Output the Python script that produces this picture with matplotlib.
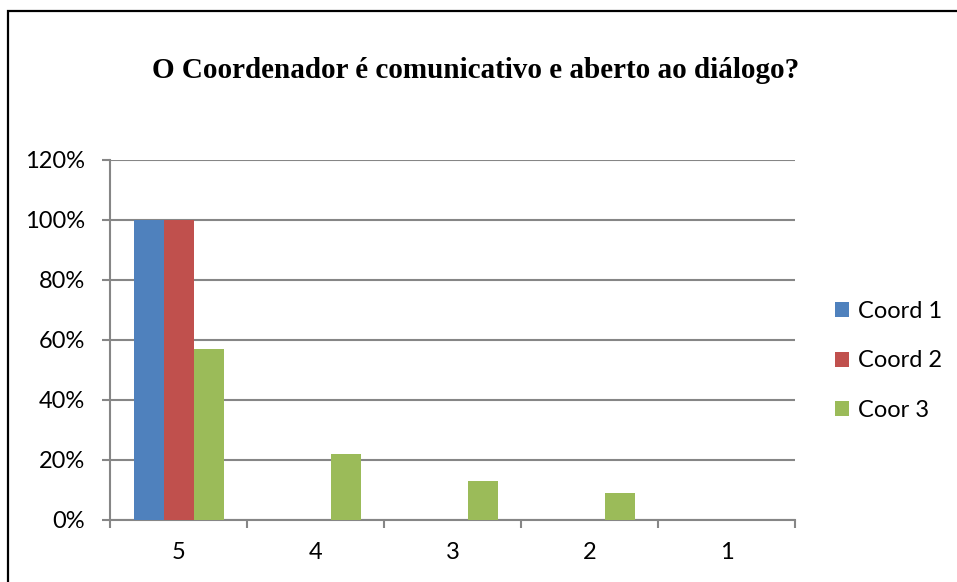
import matplotlib.pyplot as plt
import numpy as np
from matplotlib.patches import Rectangle
from matplotlib.ticker import FixedLocator, PercentFormatter

categories = ['5', '4', '3', '2', '1']
coord1 = [100, 0, 0, 0, 0]
coord2 = [100, 0, 0, 0, 0]
coor3 = [57, 22, 13, 9, 0]
series = ['Coord 1', 'Coord 2', 'Coor 3']
colors = ['#4F81BD', '#C0504D', '#9BBB59']

grid_color = '#868686'
label_font = ['Lato', 'DejaVu Sans']


def main():
    fig = plt.figure(figsize=(9.57, 5.82), dpi=100)
    ax = fig.add_axes([110 / 957, 1 - 520 / 582, 685 / 957, 360 / 582])

    # outer frame of the chart area
    fig.patches.append(Rectangle((8 / 957, -0.1), 1.2, 1 - 11 / 582 + 0.1,
                                 transform=fig.transFigure, fill=False,
                                 edgecolor='black', linewidth=1.6))

    x = np.arange(len(categories))
    w = 30 / 137
    for i, (vals, name) in enumerate(zip([coord1, coord2, coor3], series)):
        ax.bar(x + (i - 1) * w, vals, width=w, color=colors[i], label=name,
               zorder=3)

    ax.set_xlim(-0.5, len(categories) - 0.5)
    ax.set_ylim(0, 120)
    ax.set_yticks(np.arange(0, 121, 20))
    ax.yaxis.set_major_formatter(PercentFormatter(decimals=0))
    ax.set_xticks(x)
    ax.set_xticklabels(categories)
    ax.xaxis.set_minor_locator(FixedLocator(np.arange(-0.5, len(categories), 1)))
    ax.tick_params(axis='x', which='major', length=0, pad=16)
    ax.tick_params(axis='x', which='minor', length=6, width=1.5, color=grid_color)
    ax.tick_params(axis='y', length=6, width=1.5, color=grid_color, pad=12)
    for lab in ax.get_xticklabels() + ax.get_yticklabels():
        lab.set_family(label_font)
        lab.set_fontsize(17)

    ax.grid(axis='y', color=grid_color, linewidth=1.5, zorder=0)
    for side in ['top', 'right']:
        ax.spines[side].set_visible(False)
    for side in ['left', 'bottom']:
        ax.spines[side].set_color(grid_color)
        ax.spines[side].set_linewidth(1.5)

    fig.text(476 / 957, 1 - 70 / 582, 'O Coordenador é comunicativo e aberto ao diálogo?',
             ha='center', va='center', fontsize=21, fontweight='bold',
             family=['Liberation Serif', 'DejaVu Serif'])

    fig.legend(loc='center left', bbox_to_anchor=(814 / 957, 1 - 361 / 582),
               frameon=False, prop={'family': label_font, 'size': 17},
               handlelength=0.6, handleheight=0.6, handletextpad=0.35,
               labelspacing=1.2)

    fig.savefig('out.png', dpi=100)


if __name__ == '__main__':
    main()
